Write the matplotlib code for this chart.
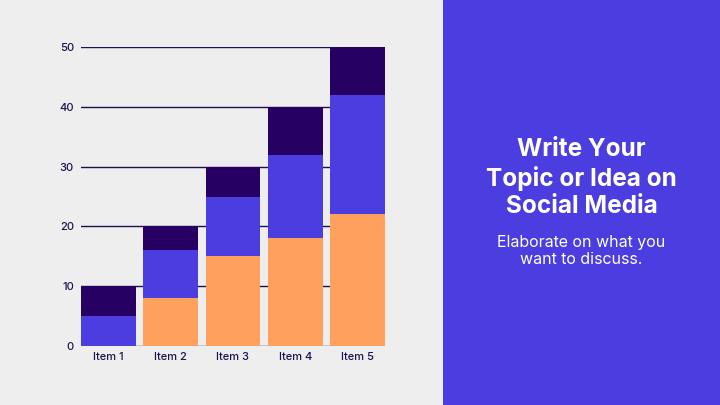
import matplotlib
matplotlib.use("Agg")
import matplotlib.pyplot as plt
import numpy as np

items = ["Item 1", "Item 2", "Item 3", "Item 4", "Item 5"]
series_a = [0, 8, 15, 18, 22]     # orange, bottom
series_b = [5, 8, 10, 14, 20]     # blue, middle
series_c = [5, 4, 5, 8, 8]        # dark, top
yticks = [0, 10, 20, 30, 40, 50]

bg = "#eeeeee"
orange = "#ffa05c"
blue = "#4b3de0"
dark = "#260063"
navy = "#1b1050"

plt.rcParams['font.family'] = ['Inter', 'DejaVu Sans']

fig = plt.figure(figsize=(7.2, 4.05), dpi=100)
fig.patch.set_facecolor(bg)

# right panel
panel = fig.add_axes([443/720, 0, 277/720, 1])
panel.set_facecolor(blue)
panel.set_xticks([])
panel.set_yticks([])
for s in panel.spines.values():
    s.set_visible(False)
panel.text(0.5, 1 - 178/405, "Write Your\nTopic or Idea on\nSocial Media", ha="center", va="center",
           color="white", fontsize=17.5, fontweight="bold", linespacing=1.22, transform=panel.transAxes)
panel.text(0.5, 1 - 251/405, "Elaborate on what you\nwant to discuss.", ha="center", va="center",
           color="white", fontsize=11.5, linespacing=1.15, transform=panel.transAxes)

# chart
ax = fig.add_axes([81/720, 1 - 346/405, 304/720, 299/405])
ax.set_facecolor(bg)
x = np.arange(len(items))
a = np.array(series_a)
b = np.array(series_b)
c = np.array(series_c)
ax.bar(x, a, width=0.88, color=orange, zorder=3)
ax.bar(x, b, width=0.88, bottom=a, color=blue, zorder=3)
ax.bar(x, c, width=0.88, bottom=a + b, color=dark, zorder=3)

ax.set_xlim(-0.44, len(items) - 0.56)
ax.set_ylim(0, 50)
ax.set_yticks(yticks)
ax.set_xticks(x)
ax.set_xticklabels(items, fontweight="medium")
for lab in ax.get_yticklabels():
    lab.set_fontweight("medium")
ax.grid(axis="y", color=navy, linewidth=1, zorder=0)
for s in ax.spines.values():
    s.set_visible(False)
ax.tick_params(length=0, colors=navy, labelsize=8)
ax.tick_params(axis="y", pad=5)
ax.tick_params(axis="x", pad=4)

plt.savefig("out.png", dpi=100, facecolor=bg)
